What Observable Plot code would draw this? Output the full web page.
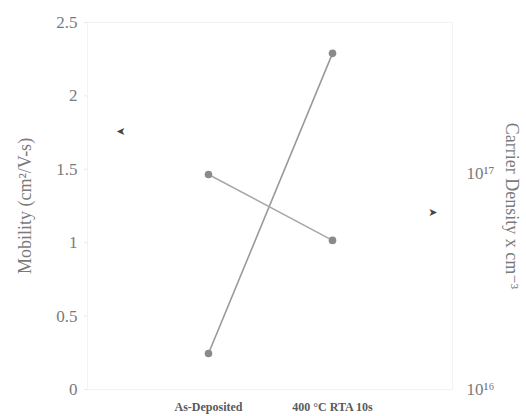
<!DOCTYPE html>
<html><head><meta charset="utf-8">
<script src="https://cdn.jsdelivr.net/npm/d3@7"></script>
<script src="https://cdn.jsdelivr.net/npm/@observablehq/plot@0.6"></script>
<style>body{margin:0;background:#fff;} #chart{width:526px;height:416px;}</style>
</head><body><div id="chart"></div>
<script>
// Data
const categories = ["As-Deposited", "400 °C RTA 10s"];
const mobility = [0.245, 2.29];                 // cm²/V-s (left axis)
const carrierDensity = [9.9e16, 4.9e16];        // cm⁻³ (right log axis)
const mobilityTicks = [0, 0.5, 1, 1.5, 2, 2.5];
const densityTicks = [1e16, 1e17];
const densityTickLabels = ["10¹⁶", "10¹⁷"];
const mobilityDomain = [0, 2.5];
const densityDomain = [1e16, 5e17];
const mobilityLabel = "Mobility (cm²/V-s)";
const densityLabel = "Carrier Density x cm⁻³";
const mobilityArrow = [1.76];                   // arrow pointing to left axis
const densityArrow = [6.6e16];                  // arrow pointing to right axis

// map carrier density onto the left-axis units (shared plotting frame)
const toUnits = d3.scaleLog().domain(densityDomain).range(mobilityDomain);
const tickLabelMap = new Map(densityTicks.map((d, i) => [toUnits(d), densityTickLabels[i]]));

const mobRows = categories.map((c, i) => ({cat: c, v: mobility[i]}));
const denRows = categories.map((c, i) => ({cat: c, v: toUnits(carrierDensity[i])}));

const serif = "'Liberation Serif', 'DejaVu Serif', serif";

const chart = Plot.plot({
  width: 526,
  height: 416,
  marginLeft: 87,
  marginRight: 74,
  marginTop: 22,
  marginBottom: 27,
  style: {fontFamily: serif, background: "#fff"},
  x: {type: "point", domain: categories, padding: 0.97},
  y: {domain: mobilityDomain},
  marks: [
    Plot.frame({stroke: "#f3f3f3"}),
    Plot.axisY({ticks: mobilityTicks, anchor: "left", tickSize: 3, stroke: "#e8e8e8", tickPadding: 7,
      tickFormat: d3.format("~g"), fontSize: 17, fill: "#7a7a7a", label: null}),
    Plot.axisY({ticks: densityTicks.map(d => toUnits(d)), anchor: "right", tickSize: 0, tickPadding: 14,
      tickFormat: d => tickLabelMap.get(d), fontSize: 17, fill: "#7a7a7a", label: null}),
    Plot.axisX({tickSize: 0, tickPadding: 13, fontSize: 12, fontWeight: "bold", fill: "#5a5a5a",
      fontFamily: serif, label: null}),
    Plot.text([mobilityLabel], {frameAnchor: "left", dx: -62, rotate: -90, textAnchor: "middle",
      fontSize: 18, fill: "#7a7a7a"}),
    Plot.text([densityLabel], {frameAnchor: "right", dx: 59, rotate: 90, textAnchor: "middle",
      fontSize: 18, fill: "#7a7a7a"}),
    Plot.line(mobRows, {x: "cat", y: "v", stroke: "#9a9a9a", strokeWidth: 1.6}),
    Plot.line(denRows, {x: "cat", y: "v", stroke: "#a8a8a8", strokeWidth: 1.6}),
    Plot.dot(mobRows, {x: "cat", y: "v", r: 3.8, fill: "#8a8a8a", stroke: "none"}),
    Plot.dot(denRows, {x: "cat", y: "v", r: 3.8, fill: "#8a8a8a", stroke: "none"}),
    Plot.text(mobilityArrow, {y: d => d, frameAnchor: "left", dx: 38, text: () => "➤", rotate: 180,
      fontSize: 11, fill: "#444", fontFamily: "DejaVu Sans"}),
    Plot.text(densityArrow, {y: d => toUnits(d), frameAnchor: "right", dx: -15, text: () => "➤",
      fontSize: 11, fill: "#444", fontFamily: "DejaVu Sans"})
  ]
});
document.getElementById("chart").appendChild(chart);
</script>
</body></html>
